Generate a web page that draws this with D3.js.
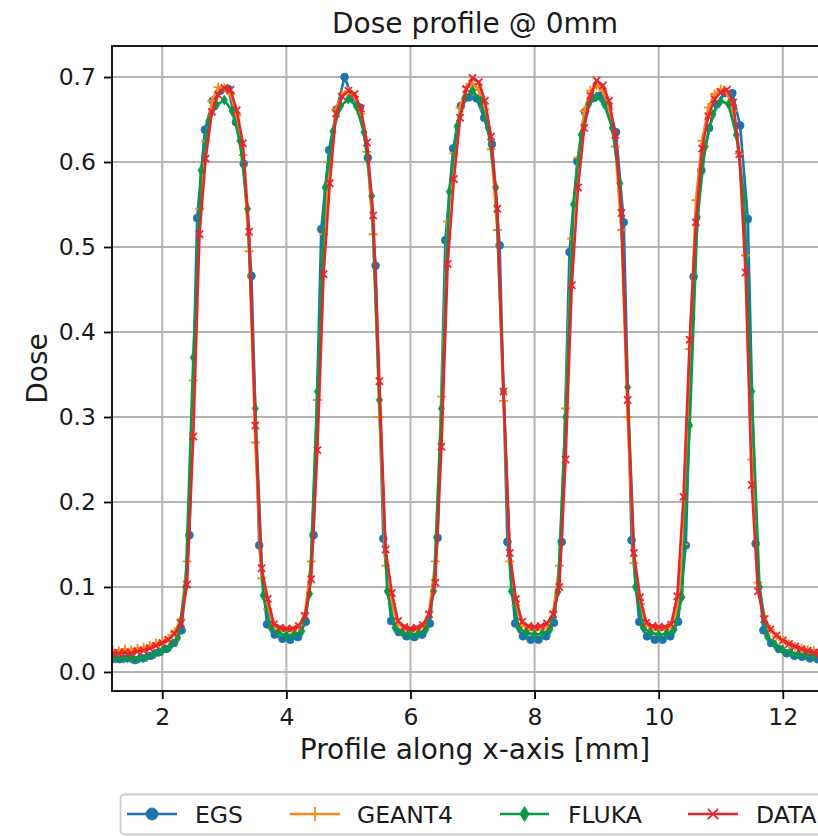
<!DOCTYPE html>
<html>
<head>
<meta charset="utf-8">
<script src="https://cdn.jsdelivr.net/npm/d3@7"></script>
<style>
  html, body { margin: 0; padding: 0; background: #ffffff; }
  svg { display: block; font-family: "DejaVu Sans", sans-serif; }
</style>
</head>
<body>
<svg id="chart" width="818" height="836"></svg>
<script>
// ---------------- data ----------------
const title = "Dose profile @ 0mm";
const xLabel = "Profile along x-axis [mm]";
const yLabel = "Dose";
const xTicks = [2, 4, 6, 8, 10, 12];
const yTicks = [0.0, 0.1, 0.2, 0.3, 0.4, 0.5, 0.6, 0.7];
const seriesNames = ["EGS", "GEANT4", "FLUKA", "DATA"];

// EGS: samples every 0.125 mm starting at 1.1875 mm
const egsStart = 1.1875, egsStep = 0.125;
const egsDose = [
  0.015, 0.015, 0.016, 0.014, 0.016, 0.019, 0.023, 0.027, 0.034, 0.049,
  0.161, 0.534, 0.638, 0.672, 0.684, 0.686, 0.647, 0.598, 0.466, 0.149,
  0.056, 0.044, 0.039, 0.038, 0.041, 0.059, 0.161, 0.521, 0.614, 0.662,
  0.700, 0.676, 0.664, 0.605, 0.478, 0.157, 0.060, 0.047, 0.042, 0.041,
  0.044, 0.057, 0.158, 0.508, 0.616, 0.666, 0.676, 0.675, 0.652, 0.621,
  0.502, 0.153, 0.057, 0.042, 0.038, 0.038, 0.042, 0.058, 0.153, 0.494,
  0.601, 0.659, 0.675, 0.678, 0.665, 0.635, 0.529, 0.155, 0.059, 0.042,
  0.038, 0.038, 0.042, 0.059, 0.149, 0.465, 0.590, 0.640, 0.668, 0.681,
  0.681, 0.643, 0.533, 0.151, 0.049, 0.034, 0.027, 0.022, 0.019, 0.018,
  0.016, 0.015, 0.015, 0.015
];

// GEANT4: samples every 0.1 mm starting at 1.2 mm
const geantStart = 1.2, geantStep = 0.1;
const geantDose = [
  0.026, 0.025, 0.027, 0.026, 0.028, 0.029, 0.031, 0.034, 0.036, 0.040,
  0.047, 0.062, 0.130, 0.343, 0.545, 0.625, 0.672, 0.688, 0.687, 0.680,
  0.655, 0.608, 0.495, 0.270, 0.110, 0.074, 0.055, 0.050, 0.048, 0.049,
  0.053, 0.069, 0.130, 0.320, 0.515, 0.600, 0.662, 0.680, 0.683, 0.677,
  0.657, 0.612, 0.515, 0.300, 0.125, 0.080, 0.057, 0.051, 0.049, 0.050,
  0.054, 0.070, 0.130, 0.324, 0.530, 0.610, 0.664, 0.688, 0.692, 0.685,
  0.662, 0.615, 0.520, 0.319, 0.130, 0.078, 0.056, 0.050, 0.049, 0.050,
  0.054, 0.070, 0.125, 0.310, 0.510, 0.605, 0.660, 0.684, 0.690, 0.684,
  0.662, 0.618, 0.520, 0.300, 0.128, 0.080, 0.056, 0.051, 0.049, 0.050,
  0.054, 0.075, 0.150, 0.380, 0.555, 0.625, 0.664, 0.680, 0.686, 0.682,
  0.660, 0.610, 0.490, 0.250, 0.105, 0.066, 0.050, 0.042, 0.037, 0.033,
  0.030, 0.028, 0.026, 0.025, 0.025, 0.024, 0.024
];

// FLUKA: samples every 0.125 mm starting at 1.25 mm
const flukaStart = 1.25, flukaStep = 0.125;
const flukaDose = [
  0.016, 0.016, 0.016, 0.016, 0.018, 0.021, 0.025, 0.030, 0.040, 0.100,
  0.370, 0.590, 0.648, 0.667, 0.673, 0.660, 0.625, 0.545, 0.310, 0.090,
  0.052, 0.046, 0.043, 0.044, 0.048, 0.092, 0.330, 0.570, 0.636, 0.666,
  0.674, 0.666, 0.635, 0.560, 0.320, 0.095, 0.052, 0.046, 0.044, 0.045,
  0.050, 0.095, 0.310, 0.565, 0.642, 0.675, 0.684, 0.672, 0.640, 0.570,
  0.330, 0.095, 0.051, 0.046, 0.044, 0.045, 0.050, 0.094, 0.300, 0.550,
  0.632, 0.668, 0.677, 0.668, 0.640, 0.575, 0.335, 0.100, 0.052, 0.046,
  0.044, 0.045, 0.050, 0.088, 0.290, 0.535, 0.618, 0.656, 0.672, 0.668,
  0.632, 0.560, 0.330, 0.100, 0.042, 0.032, 0.026, 0.023, 0.021, 0.020,
  0.019, 0.019, 0.019
];

// DATA (measurement): samples every 0.1 mm starting at 1.2 mm
const dataStart = 1.2, dataStep = 0.1;
const dataDose = [
  0.022, 0.022, 0.023, 0.022, 0.024, 0.025, 0.028, 0.031, 0.034, 0.038,
  0.045, 0.057, 0.103, 0.277, 0.515, 0.604, 0.659, 0.679, 0.687, 0.685,
  0.661, 0.622, 0.518, 0.290, 0.122, 0.086, 0.056, 0.052, 0.051, 0.051,
  0.054, 0.066, 0.109, 0.261, 0.468, 0.575, 0.657, 0.677, 0.684, 0.680,
  0.663, 0.623, 0.537, 0.342, 0.144, 0.093, 0.060, 0.053, 0.051, 0.052,
  0.055, 0.068, 0.105, 0.265, 0.480, 0.580, 0.652, 0.686, 0.699, 0.694,
  0.672, 0.630, 0.545, 0.330, 0.140, 0.086, 0.059, 0.054, 0.053, 0.054,
  0.057, 0.068, 0.100, 0.250, 0.455, 0.570, 0.640, 0.678, 0.696, 0.690,
  0.672, 0.632, 0.540, 0.320, 0.140, 0.088, 0.058, 0.054, 0.053, 0.053,
  0.056, 0.089, 0.206, 0.391, 0.529, 0.616, 0.654, 0.674, 0.682, 0.685,
  0.670, 0.609, 0.470, 0.220, 0.095, 0.062, 0.050, 0.043, 0.037, 0.033,
  0.030, 0.027, 0.025, 0.023, 0.022, 0.021, 0.021
];

// ---------------- layout / style ----------------
const colors = { EGS: "#1f74ad", GEANT4: "#f98a1c", FLUKA: "#089a48", DATA: "#e5262b" };
const axL = 112, axR = 838, axT = 46, axB = 691;

const svg = d3.select("#chart");
const x = d3.scaleLinear().domain([1.19, 12.89]).range([axL, axR]);
const y = d3.scaleLinear().domain([-0.0224, 0.7365]).range([axB, axT]);

function toPoints(start, step, vals) {
  return vals.map((v, i) => ({ x: +(start + i * step).toFixed(4), y: v }));
}
const series = [
  { name: "EGS", pts: toPoints(egsStart, egsStep, egsDose), marker: "circle" },
  { name: "GEANT4", pts: toPoints(geantStart, geantStep, geantDose), marker: "plus" },
  { name: "FLUKA", pts: toPoints(flukaStart, flukaStep, flukaDose), marker: "diamond" },
  { name: "DATA", pts: toPoints(dataStart, dataStep, dataDose), marker: "cross" }
];

svg.append("defs").append("clipPath").attr("id", "axclip")
  .append("rect").attr("x", axL).attr("y", axT).attr("width", axR - axL).attr("height", axB - axT);

// grid
const grid = svg.append("g");
grid.selectAll("line.gx").data(xTicks).join("line")
  .attr("x1", d => x(d)).attr("x2", d => x(d)).attr("y1", axT).attr("y2", axB)
  .attr("stroke", "#b4b4b4").attr("stroke-width", 2);
grid.selectAll("line.gy").data(yTicks).join("line")
  .attr("x1", axL).attr("x2", axR).attr("y1", d => y(d)).attr("y2", d => y(d))
  .attr("stroke", "#b4b4b4").attr("stroke-width", 2);

// marker drawing
function drawMarker(g, type, color, s) {
  if (type === "circle") {
    g.append("circle").attr("r", s).attr("fill", color).attr("stroke", color).attr("stroke-width", 0.8);
  } else if (type === "plus") {
    g.append("path").attr("d", `M${-s},0H${s}M0,${-s}V${s}`)
      .attr("stroke", color).attr("stroke-width", 1.8).attr("fill", "none");
  } else if (type === "diamond") {
    const w = s * 0.62;
    g.append("path").attr("d", `M0,${-s}L${w},0L0,${s}L${-w},0Z`)
      .attr("fill", color).attr("stroke", color).attr("stroke-width", 0.8);
  } else if (type === "cross") {
    const k = s * 0.8;
    g.append("path").attr("d", `M${-k},${-k}L${k},${k}M${-k},${k}L${k},${-k}`)
      .attr("stroke", color).attr("stroke-width", 1.8).attr("fill", "none");
  }
}
const markerSize = { circle: 3.9, plus: 4.5, diamond: 4.9, cross: 4.5 };

const plot = svg.append("g").attr("clip-path", "url(#axclip)");
const line = d3.line().x(d => x(d.x)).y(d => y(d.y));
series.forEach(s => {
  const g = plot.append("g");
  g.append("path").datum(s.pts).attr("d", line)
    .attr("fill", "none").attr("stroke", colors[s.name]).attr("stroke-width", 2.6)
    .attr("stroke-linejoin", "round");
  s.pts.forEach(p => {
    const mg = g.append("g").attr("transform", `translate(${x(p.x)},${y(p.y)})`);
    drawMarker(mg, s.marker, colors[s.name], markerSize[s.marker]);
  });
});

// axes
const xAxis = d3.axisBottom(x).tickValues(xTicks).tickFormat(d3.format("d")).tickSize(8).tickPadding(9);
const yAxis = d3.axisLeft(y).tickValues(yTicks).tickFormat(d3.format(".1f")).tickSize(8).tickPadding(8);
const gx = svg.append("g").attr("transform", `translate(0,${axB})`).call(xAxis);
const gy = svg.append("g").attr("transform", `translate(${axL},0)`).call(yAxis);
[gx, gy].forEach(g => {
  g.select(".domain").remove();
  g.selectAll(".tick line").attr("stroke", "#000").attr("stroke-width", 1.8);
  g.selectAll(".tick text").attr("fill", "#1a1a1a").style("font-size", "23.5px")
    .style("font-family", "'DejaVu Sans', sans-serif");
});

// spines
svg.append("rect").attr("x", axL).attr("y", axT).attr("width", axR - axL).attr("height", axB - axT)
  .attr("fill", "none").attr("stroke", "#000").attr("stroke-width", 1.8);

// title and labels
svg.append("text").attr("x", 475).attr("y", 33).attr("text-anchor", "middle")
  .style("font-size", "28px").attr("fill", "#1a1a1a").text(title);
svg.append("text").attr("x", 475).attr("y", 759).attr("text-anchor", "middle")
  .style("font-size", "28px").attr("fill", "#1a1a1a").text(xLabel);
svg.append("text").attr("transform", `translate(47,${(axT + axB) / 2}) rotate(-90)`)
  .attr("text-anchor", "middle").style("font-size", "28px").attr("fill", "#1a1a1a").text(yLabel);

// legend
const leg = svg.append("g");
leg.append("rect").attr("x", 120.5).attr("y", 794.5).attr("width", 712).attr("height", 40).attr("rx", 4)
  .attr("fill", "#fff").attr("fill-opacity", 0.8).attr("stroke", "#cccccc").attr("stroke-width", 1.8);
const legPos = [
  { x1: 127, x2: 177, tx: 195 },
  { x1: 290, x2: 340, tx: 357 },
  { x1: 500, x2: 549, tx: 568 },
  { x1: 688, x2: 738, tx: 756 }
];
const legMarker = { circle: 6, plus: 7, diamond: 7.5, cross: 6.5 };
series.forEach((s, i) => {
  const p = legPos[i];
  const ly = 814;
  leg.append("line").attr("x1", p.x1).attr("x2", p.x2).attr("y1", ly).attr("y2", ly)
    .attr("stroke", colors[s.name]).attr("stroke-width", 2.6);
  const mg = leg.append("g").attr("transform", `translate(${(p.x1 + p.x2) / 2},${ly})`);
  drawMarker(mg, s.marker, colors[s.name], legMarker[s.marker]);
  leg.append("text").attr("x", p.tx).attr("y", ly + 8.5).style("font-size", "23.5px")
    .attr("fill", "#1a1a1a").text(seriesNames[i]);
});
</script>
</body>
</html>
